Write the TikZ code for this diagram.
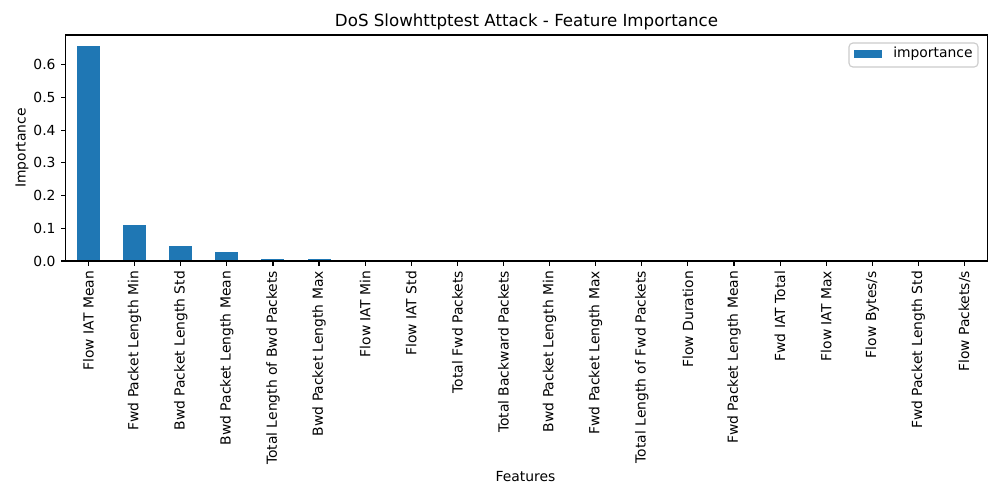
\documentclass[tikz,border=0pt]{standalone}
\usepackage{fontspec}
\setmainfont{DejaVu Sans}
\definecolor{barblue}{HTML}{1F77B4}
\definecolor{legedge}{HTML}{CCCCCC}
\begin{document}
\begin{tikzpicture}[x=0.72pt,y=-0.72pt,
  barrect/.style={fill=barblue,draw=none},
  ticklab/.style={font=\fontsize{10}{12}\selectfont,inner sep=0pt,text=black},
  tickmark/.style={line width=0.8pt,black},
  frameline/.style={line width=0.8pt,black},
  titlelab/.style={font=\fontsize{12}{14}\selectfont,inner sep=0pt},
  axlab/.style={font=\fontsize{10}{12}\selectfont,inner sep=0pt}]
\useasboundingbox[fill=white] (0,0) rectangle (1000,500);
% bars
\foreach \i/\v in {0/0.656,1/0.110,2/0.046,3/0.028,4/0.007,5/0.005,6/0.004,7/0.0003,8/0,9/0,10/0,11/0,12/0,13/0,14/0,15/0,16/0,17/0,18/0,19/0}{
  \pgfmathsetmacro\cx{88.55+46.1*\i}
  \pgfmathsetmacro\top{261-327.2*\v}
  \fill[barblue] (\cx-11.525,261) rectangle (\cx+11.525,\top);
}
% axes frame
\draw[frameline] (65.5,35) rectangle (987.8,261);
% y ticks
\foreach \k in {0,...,6}{
  \pgfmathsetmacro\ty{261-32.72*\k}
  \draw[tickmark] (65.5,\ty) -- (60.6,\ty);
  \node[ticklab,anchor=east] (yl\k) at (55.8,\ty) {0.\k};
}
% x ticks and labels
\foreach \i/\n in {0/Flow IAT Mean,1/Fwd Packet Length Min,2/Bwd Packet Length Std,3/Bwd Packet Length Mean,4/Total Length of Bwd Packets,5/Bwd Packet Length Max,6/Flow IAT Min,7/Flow IAT Std,8/Total Fwd Packets,9/Total Backward Packets,10/Bwd Packet Length Min,11/Fwd Packet Length Max,12/Total Length of Fwd Packets,13/Flow Duration,14/Fwd Packet Length Mean,15/Fwd IAT Total,16/Flow IAT Max,17/Flow Bytes\slash s,18/Fwd Packet Length Std,19/Flow Packets\slash s}{
  \pgfmathsetmacro\cx{88.55+46.1*\i}
  \draw[tickmark] (\cx,261) -- (\cx,265.9);
  \node[ticklab,rotate=90,anchor=east] (xl\i) at (\cx,270.8) {\n};
}
% axis labels and title
\node[axlab,rotate=90] (ylab) at (22,148) {Importance};
\node[axlab] (xlab) at (525.5,477) {Features};
\node[titlelab] (title) at (526.5,21.5) {DoS Slowhttptest Attack - Feature Importance};
% legend
\draw[legedge,fill=white,fill opacity=0.8,rounded corners=2.8,line width=0.8pt] (849,43) rectangle (978,67);
\fill[barblue] (854,50) rectangle (882,58);
\node[ticklab,anchor=west] (legtext) at (893,54) {importance};
\end{tikzpicture}
\end{document}
